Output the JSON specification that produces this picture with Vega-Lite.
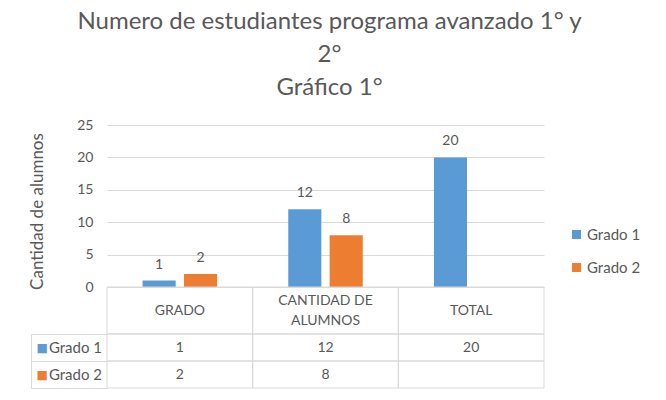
{
  "$schema": "https://vega.github.io/schema/vega-lite/v6.json",
  "width": 437,
  "height": 263,
  "autosize": {"type": "none"},
  "padding": {"left": 107, "top": 125, "right": 122, "bottom": 12},
  "background": "white",
  "config": {
    "font": "Lato",
    "view": {"stroke": null},
    "axis": {"labelFont": "Lato", "titleFont": "Lato"},
    "legend": {"labelFont": "Lato"}
  },
  "title": {
    "text": ["Numero de estudiantes programa avanzado 1° y", "2°", "Gráfico 1°"],
    "font": "Lato",
    "fontSize": 24,
    "fontWeight": "normal",
    "color": "#595959",
    "lineHeight": 33,
    "anchor": "middle",
    "offset": 18,
    "dx": 4
  },
  "data": {
    "values": [
      {"categoria": "GRADO", "serie": "Grado 1", "alumnos": 1},
      {"categoria": "GRADO", "serie": "Grado 2", "alumnos": 2},
      {"categoria": "CANTIDAD DE\nALUMNOS", "serie": "Grado 1", "alumnos": 12},
      {"categoria": "CANTIDAD DE\nALUMNOS", "serie": "Grado 2", "alumnos": 8},
      {"categoria": "TOTAL", "serie": "Grado 1", "alumnos": 20},
      {"categoria": "TOTAL", "serie": "Grado 2", "alumnos": null}
    ]
  },
  "encoding": {
    "x": {
      "field": "categoria",
      "type": "nominal",
      "scale": {
        "domain": ["GRADO", "CANTIDAD DE\nALUMNOS", "TOTAL"],
        "paddingInner": 0,
        "paddingOuter": 0
      },
      "axis": null
    }
  },
  "layer": [
    {
      "mark": {"type": "bar"},
      "encoding": {
        "xOffset": {
          "field": "serie",
          "type": "nominal",
          "scale": {"domain": ["Grado 1", "Grado 2"], "paddingInner": 0.2, "paddingOuter": 0.86}
        },
        "y": {
          "field": "alumnos",
          "type": "quantitative",
          "scale": {"domain": [0, 25], "range": [162, 0], "nice": false},
          "axis": {
            "orient": "left",
            "values": [0, 5, 10, 15, 20, 25],
            "domain": false,
            "ticks": false,
            "grid": true,
            "gridColor": "#d9d9d9",
            "labelPadding": 14,
            "labelFontSize": 14,
            "labelColor": "#595959",
            "title": "Cantidad de alumnos",
            "titleFontSize": 17,
            "titleFontWeight": "normal",
            "titleColor": "#595959",
            "titlePadding": 30,
            "titleY": 86
          }
        },
        "color": {
          "field": "serie",
          "type": "nominal",
          "scale": {"domain": ["Grado 1", "Grado 2"], "range": ["#5b9bd5", "#ed7d31"]},
          "legend": {
            "orient": "none",
            "legendX": 462,
            "legendY": 102,
            "title": null,
            "symbolType": "square",
            "symbolSize": 81,
            "symbolStrokeWidth": 0,
            "labelFontSize": 15,
            "labelColor": "#595959",
            "labelOffset": 3,
            "rowPadding": 17
          }
        }
      }
    },
    {
      "transform": [{"filter": "isValid(datum.alumnos)"}],
      "mark": {"type": "text", "baseline": "alphabetic", "dy": -12, "fontSize": 14, "color": "#595959"},
      "encoding": {
        "xOffset": {
          "field": "serie",
          "type": "nominal",
          "scale": {"domain": ["Grado 1", "Grado 2"], "paddingInner": 0.2, "paddingOuter": 0.86}
        },
        "y": {
          "field": "alumnos",
          "type": "quantitative",
          "scale": {"domain": [0, 25], "range": [162, 0], "nice": false},
          "axis": null
        },
        "text": {"field": "alumnos", "type": "quantitative"}
      }
    },
    {
      "transform": [{"filter": "datum.serie === 'Grado 1'"}],
      "mark": {"type": "rect", "fill": "transparent", "stroke": "#d9d9d9", "strokeWidth": 1},
      "encoding": {
        "y": {
          "datum": "encabezado",
          "type": "nominal",
          "scale": {"domain": ["encabezado"], "range": [162, 209], "paddingInner": 0, "paddingOuter": 0},
          "axis": null
        }
      }
    },
    {
      "transform": [
        {"filter": "datum.serie === 'Grado 1'"},
        {"filter": "indexof(datum.categoria, '\\n') < 0"}
      ],
      "mark": {"type": "text", "fontSize": 14, "color": "#595959", "baseline": "middle"},
      "encoding": {
        "y": {
          "datum": "encabezado",
          "type": "nominal",
          "scale": {"domain": ["encabezado"], "range": [162, 209], "paddingInner": 0, "paddingOuter": 0},
          "axis": null
        },
        "text": {"field": "categoria", "type": "nominal"}
      }
    },
    {
      "transform": [
        {"filter": "datum.serie === 'Grado 1'"},
        {"filter": "indexof(datum.categoria, '\\n') >= 0"}
      ],
      "mark": {"type": "text", "fontSize": 14, "color": "#595959", "lineBreak": "\n", "lineHeight": 20, "baseline": "middle", "dy": -10},
      "encoding": {
        "y": {
          "datum": "encabezado",
          "type": "nominal",
          "scale": {"domain": ["encabezado"], "range": [162, 209], "paddingInner": 0, "paddingOuter": 0},
          "axis": null
        },
        "text": {"field": "categoria", "type": "nominal"}
      }
    },
    {
      "mark": {"type": "rect", "fill": "transparent", "stroke": "#d9d9d9", "strokeWidth": 1},
      "encoding": {
        "y": {
          "field": "serie",
          "type": "nominal",
          "scale": {"domain": ["Grado 1", "Grado 2"], "range": [209, 263], "paddingInner": 0, "paddingOuter": 0},
          "axis": {
            "orient": "left",
            "offset": 76,
            "domain": true,
            "domainColor": "#d9d9d9",
            "ticks": false,
            "grid": false,
            "title": null,
            "labelExpr": "'■'",
            "labelFont": "DejaVu Sans",
            "labelFontSize": 12,
            "labelAlign": "left",
            "labelPadding": -5,
            "labelColor": {
              "condition": {"test": "datum.value === 'Grado 1'", "value": "#5b9bd5"},
              "value": "#ed7d31"
            }
          }
        }
      }
    },
    {
      "transform": [{"filter": "isValid(datum.alumnos)"}],
      "mark": {"type": "text", "fontSize": 14, "color": "#595959", "baseline": "middle"},
      "encoding": {
        "y": {
          "field": "serie",
          "type": "nominal",
          "scale": {"domain": ["Grado 1", "Grado 2"], "range": [209, 263], "paddingInner": 0, "paddingOuter": 0},
          "axis": {
            "orient": "left",
            "domain": false,
            "ticks": true,
            "tickSize": 76,
            "tickColor": "#d9d9d9",
            "tickBand": "extent",
            "grid": false,
            "title": null,
            "labelAlign": "right",
            "labelPadding": -70.5,
            "labelFontSize": 15,
            "labelColor": "#595959"
          }
        },
        "text": {"field": "alumnos", "type": "quantitative"}
      }
    }
  ],
  "resolve": {"scale": {"y": "independent"}, "axis": {"y": "independent"}}
}
